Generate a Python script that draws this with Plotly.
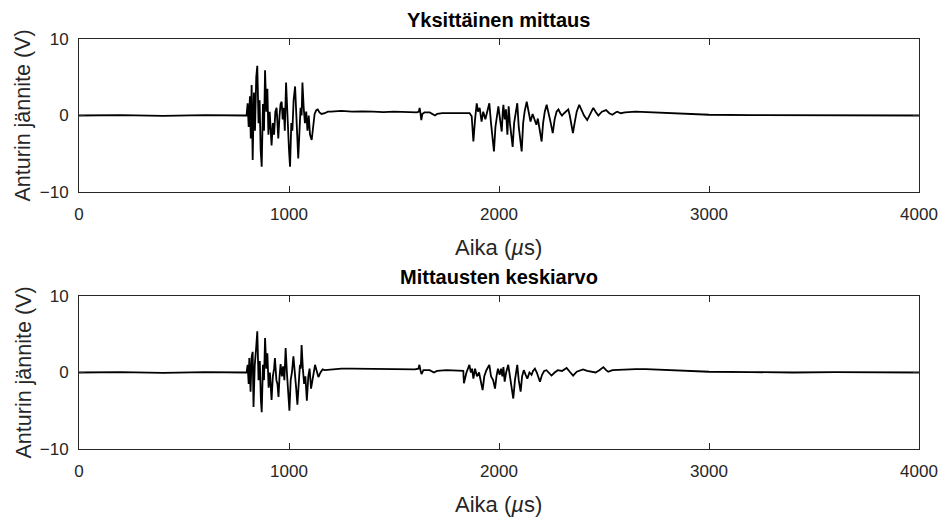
import plotly.graph_objects as go

W, H = 943, 517

# ---- data (time in µs, voltage in V) ----
t_single = [0, 200, 400, 600, 790, 798,
    803, 808, 814, 818, 822, 827, 833, 838, 844, 849, 855, 860, 865, 870, 876, 881, 886, 892, 897,
    902, 908, 913, 917, 923, 929, 935, 941, 945, 949, 955, 960, 965, 970, 975, 980, 986, 991, 996,
    1000, 1005, 1011, 1016, 1022, 1029, 1034, 1039, 1044, 1050, 1055, 1060, 1064, 1070, 1076, 1082,
    1088, 1094, 1100, 1108, 1115, 1122, 1130, 1137, 1145, 1155, 1170, 1185, 1200, 1250, 1300, 1350,
    1400, 1450, 1500, 1560, 1610, 1618, 1622, 1626, 1630, 1635, 1645, 1670, 1685, 1695, 1705, 1730,
    1800, 1860,
    1870, 1878, 1886, 1894, 1900, 1908, 1917, 1925, 1935, 1945, 1954, 1962, 1969, 1976, 1983, 1990,
    1997, 2005, 2013, 2018, 2021, 2027, 2033, 2040, 2046, 2052, 2058, 2065, 2072, 2080, 2087, 2094,
    2101, 2108, 2115, 2122, 2132, 2140, 2150, 2160, 2170, 2178, 2185, 2192, 2198, 2203, 2210, 2218,
    2227, 2235, 2245, 2256, 2265, 2274, 2283, 2292, 2300, 2310, 2320, 2330, 2337, 2345, 2352, 2360,
    2370, 2382, 2392, 2405, 2420, 2435, 2449, 2460, 2473, 2490, 2510, 2525, 2540, 2555, 2563, 2580,
    2600, 2650, 2700, 2750, 2800, 2850, 2900, 2950, 3000, 3200, 3400, 3600, 3800, 4000]
v_single = [0, 0.05, -0.05, 0.05, 0, 0,
    1.6, -1.5, 2.5, -3.0, 4.0, -5.8, 3.0, -2.0, 5.0, 6.5, -1.0, 2.0, -4.5, -6.7, 1.5, -2.0, 5.9, 0.5, 3.5,
    -2.5, 0.5, -1.5, -3.9, -1.0, -2.5, 0.5, 1.0, -1.0, -3.0, 0.0, 1.5, 1.8, -0.5, 1.0, -2.0, 4.3, 0.5, -3.0,
    -4.5, -6.7, -1.0, -2.0, 2.0, 3.8, -0.5, -2.5, -5.6, -1.0, 1.0, 0.0, 4.3, 1.0, -1.0, 0.5,
    -2.0, 0.0, -2.5, -3.2, -1.0, 0.2, 0.7, 0.8, 0.4, 0.2, 0.3, 0.5, 0.5, 0.6, 0.5, 0.55,
    0.5, 0.45, 0.5, 0.45, 0.4, 0.5, 1.0, 0.3, -0.6, 0.2, 0.4, 0.4, 0.1, 0.0, 0.2, 0.3,
    0.3, 0.3,
    -0.1, -3.4, -0.5, 1.6, 0.5, 1.0, -0.8, 0.5, -0.5, 0.8, 1.6, -1.0, -3.0, -4.7, -1.5, 0.0,
    1.2, -0.5, -2.1, 0.5, 1.4, -0.5, 0.8, -2.5, 1.2, -1.0, -2.5, -4.1, -1.0, 0.5, 1.6, -1.5,
    -3.5, -4.7, -1.0, 0.5, 1.8, 0.5, -0.8, 0.2, -0.5, -1.2, -0.4, -1.5, -2.5, -3.4, -1.0, 0.5,
    1.4, 0.2, -0.8, -2.3, -0.5, 0.5, 0.8, 0.3, 0.0, 0.3, 0.6, 0.8, 0.0, -1.2, -2.3, -1.0,
    0.5, 1.4, 0.8, 0.0, -0.6, 0.3, 1.0, 0.5, 0.0, 0.5, 0.7, 0.3, 0.1, 0.4, 0.5, 0.3,
    0.4, 0.5, 0.45, 0.4, 0.35, 0.3, 0.2, 0.15, 0.1, 0.05, 0.05, 0.0, 0.05, 0.0]

t_mean = [0, 200, 400, 600, 790, 798,
    803, 808, 811, 817, 822, 827, 831, 837, 843, 849, 855, 861, 866, 870, 876, 881, 886, 892, 897,
    903, 909, 913, 917, 923, 929, 933, 940, 945, 950, 955, 960, 966, 972, 978, 984, 990, 996, 1002,
    1008, 1014, 1021, 1027, 1034, 1040, 1046, 1052, 1056, 1060, 1066, 1072, 1078, 1085, 1092, 1098,
    1105, 1112, 1118, 1124, 1132, 1140, 1150, 1160, 1170, 1200, 1250, 1300, 1400, 1500, 1600, 1616,
    1621, 1626, 1631, 1640, 1670, 1690, 1705, 1750, 1800, 1830,
    1833, 1845, 1859, 1866, 1872, 1878, 1886, 1895, 1905, 1914, 1922, 1930, 1940, 1954, 1962, 1972,
    1981, 1988, 1995, 2003, 2010, 2016, 2021, 2027, 2034, 2044, 2052, 2060, 2068, 2076, 2082, 2087,
    2094, 2103, 2110, 2118, 2127, 2135, 2145, 2155, 2162, 2171, 2180, 2188, 2195, 2205, 2215, 2226,
    2238, 2250, 2265, 2280, 2300, 2322, 2337, 2353, 2370, 2385, 2400, 2420, 2440, 2460, 2478, 2497,
    2510, 2520, 2540, 2600, 2650, 2700, 2750, 2800, 2850, 2900, 2950, 3000, 3200, 3400, 3600, 3800, 4000]
v_mean = [0, 0.05, -0.05, 0.05, 0, 0,
    1.0, -1.5, 1.9, -2.5, 2.0, 2.7, -4.5, 1.0, 3.0, 5.4, -1.0, 1.5, -3.5, -5.2, 1.0, -1.0, 4.5, 0.5, 2.5,
    -2.0, 0.0, -1.5, -3.6, -0.5, 0.5, 1.9, -1.0, -1.5, -3.2, -0.5, 1.1, -0.5, 0.8, -1.0, 3.2, 0.0, -3.0, -5.0,
    -1.0, 0.0, 2.1, -0.5, -2.0, -4.2, -0.5, 1.0, 0.5, 3.6, 0.5, -1.5, -0.5, -3.7, -0.5, 0.5,
    -2.1, -1.0, 0.3, 1.0, 0.2, -0.6, 0.0, 0.4, 0.3, 0.4, 0.5, 0.5, 0.45, 0.45, 0.4, 0.5,
    1.0, 0.3, -0.2, 0.3, 0.3, 0.0, 0.2, 0.3, 0.25, 0.2,
    -1.4, 0.0, 1.0, 0.0, 0.5, -0.8, 0.5, -0.5, 0.0, -1.5, -2.3, -0.5, 0.3, 1.0, -0.5, -1.0,
    -2.1, -0.5, 0.5, -0.3, 0.5, -0.5, 0.7, -1.2, 0.0, 1.0, -0.5, -2.0, -3.4, -1.0, 0.3, 1.0,
    -1.0, -2.5, -0.5, 0.3, -0.3, -0.8, 0.0, -0.3, 0.2, 0.5, 0.0, -0.8, -1.2, -0.3, 0.2, 0.3,
    -0.1, -0.4, 0.0, 0.3, 0.2, 0.6, 0.1, -0.4, 0.1, 0.3, 0.4, 0.2, 0.1, 0.0, 0.3, 0.7,
    0.3, 0.1, 0.3, 0.4, 0.45, 0.45, 0.4, 0.35, 0.3, 0.2, 0.15, 0.1, 0.05, 0.0, 0.05, 0.0, 0.0]

titles = ["Yksittäinen mittaus", "Mittausten keskiarvo"]
x_ticks = [0, 1000, 2000, 3000, 4000]
y_ticks = [-10, 0, 10]
x_label = "Aika (<i>µ</i>s)"
y_label = "Anturin jännite (V)"

FONT = "Liberation Sans, Arial, Helvetica, sans-serif"
AX = "#262626"

# pixel layout
left, right = 79, 919
panels = [(39, 192), (296, 449)]  # (top, bottom) in px

def px_x(p): return p / W
def px_y(p): return 1 - p / H

fig = go.Figure()
series = [(t_single, v_single), (t_mean, v_mean)]
annotations = []
for i, ((tt, vv), (top, bot)) in enumerate(zip(series, panels)):
    xa = "x" if i == 0 else f"x{i+1}"
    ya = "y" if i == 0 else f"y{i+1}"
    fig.add_trace(go.Scatter(x=tt, y=vv, mode="lines", xaxis=xa, yaxis=ya,
                             line=dict(color="black", width=1.8), showlegend=False,
                             hoverinfo="skip"))
    axis_common = dict(showline=True, linecolor=AX, linewidth=1, mirror="ticks",
                       ticks="inside", tickcolor=AX, ticklen=6, showgrid=False,
                       zeroline=False, automargin=False,
                       tickfont=dict(family=FONT, size=17, color=AX))
    key = "" if i == 0 else str(i + 1)
    fig.update_layout(**{
        f"xaxis{key}": dict(domain=[px_x(left), px_x(right)], range=[0, 4000],
                            tickvals=x_ticks, anchor=ya, ticklabelstandoff=7,
                            **axis_common),
        f"yaxis{key}": dict(domain=[px_y(bot), px_y(top)], range=[-10, 10],
                            tickvals=y_ticks, anchor=xa, ticklabelstandoff=6,
                            **axis_common),
    })
    cx = px_x((left + right) / 2)
    annotations.append(dict(text=f"<b>{titles[i]}</b>", x=cx, y=px_y(top - 19),
                            xref="paper", yref="paper", showarrow=False,
                            xanchor="center", yanchor="middle",
                            font=dict(family=FONT, size=20, color="black")))
    annotations.append(dict(text=x_label, x=cx, y=px_y(bot + 55),
                            xref="paper", yref="paper", showarrow=False,
                            xanchor="center", yanchor="middle",
                            font=dict(family=FONT, size=22, color=AX)))
    annotations.append(dict(text=y_label, x=px_x(23), y=px_y((top + bot) / 2),
                            xref="paper", yref="paper", showarrow=False, textangle=-90,
                            xanchor="center", yanchor="middle",
                            font=dict(family=FONT, size=21.5, color=AX)))

fig.update_layout(width=W, height=H, margin=dict(l=0, r=0, t=0, b=0),
                  paper_bgcolor="white", plot_bgcolor="white",
                  annotations=annotations, font=dict(family=FONT))

fig.write_html("out.html", config={"displayModeBar": False})
